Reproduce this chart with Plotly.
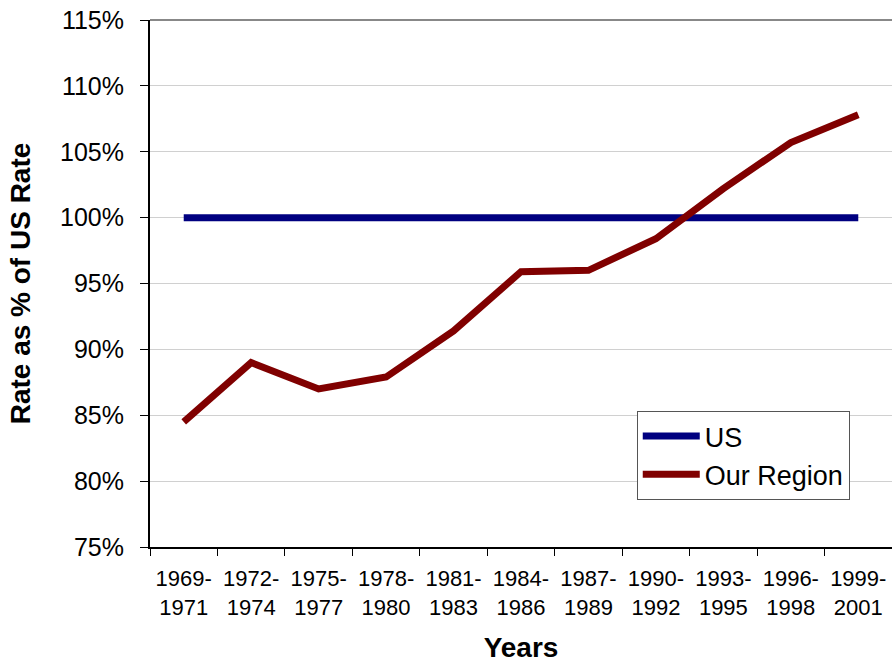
import plotly.graph_objects as go

categories = ["1969-<br>1971", "1972-<br>1974", "1975-<br>1977", "1978-<br>1980", "1981-<br>1983",
              "1984-<br>1986", "1987-<br>1989", "1990-<br>1992", "1993-<br>1995", "1996-<br>1998",
              "1999-<br>2001"]
us_values = [1.0] * 11
region_values = [0.845, 0.89, 0.87, 0.879, 0.914, 0.959, 0.96, 0.984, 1.022, 1.057, 1.078]
y_ticks = [0.75, 0.80, 0.85, 0.90, 0.95, 1.00, 1.05, 1.10, 1.15]

font_family = "Liberation Sans, Arial, sans-serif"

fig = go.Figure()
fig.add_trace(go.Scatter(x=categories, y=us_values, mode="lines", name="US",
                         line=dict(color="#000080", width=7)))
fig.add_trace(go.Scatter(x=categories, y=region_values, mode="lines", name="Our Region",
                         line=dict(color="#800000", width=7)))

fig.update_layout(
    width=892, height=663,
    margin=dict(l=150, r=0, t=20, b=116),
    paper_bgcolor="white", plot_bgcolor="white",
    font=dict(family=font_family, color="black"),
    showlegend=True,
    legend=dict(x=0.656, y=0.258, xanchor="left", yanchor="top",
                bordercolor="#555555", borderwidth=1, bgcolor="white",
                font=dict(size=27, family=font_family), tracegroupgap=0,
                itemwidth=57),
    xaxis=dict(type="category", range=[-0.5, 10.5], tickson="boundaries",
               ticks="outside", ticklen=7, tickcolor="black", showline=True,
               linecolor="black", linewidth=2, showgrid=False, automargin=False,
               ticklabelstandoff=11,
               tickfont=dict(size=22, family=font_family),
               title=dict(text="<b>Years</b>", font=dict(size=28, family=font_family), standoff=36)),
    yaxis=dict(range=[0.75, 1.15], tickvals=y_ticks, tickformat=".0%",
               ticks="outside", ticklen=8, tickcolor="black", showline=True,
               linecolor="black", linewidth=2, showgrid=True, gridcolor="#d0d0d0",
               gridwidth=1, zeroline=False, automargin=False,
               ticklabelstandoff=11,
               tickfont=dict(size=25, family=font_family),
               title=dict(text="<b>Rate as % of US Rate</b>", font=dict(size=28, family=font_family), standoff=21)),
    shapes=[dict(type="line", xref="paper", yref="paper", x0=0, x1=1, y0=1, y1=1,
                 line=dict(color="#888888", width=2))],
)

fig.write_html("out.html", config={"displayModeBar": False},
               post_script="document.body.style.margin='0';document.body.style.overflow='hidden';")
